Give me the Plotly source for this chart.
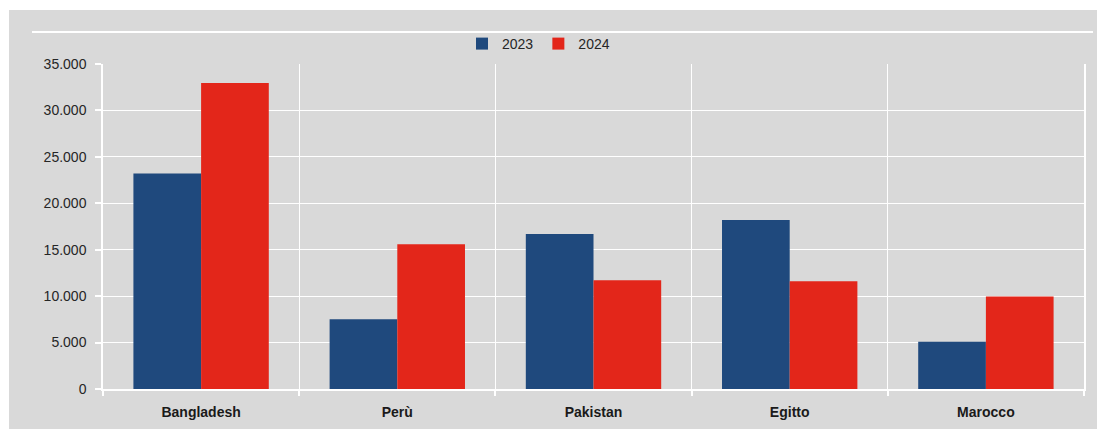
import plotly.graph_objects as go

# Data
countries = ["Bangladesh", "Perù", "Pakistan", "Egitto", "Marocco"]
values_2023 = [23200, 7500, 16700, 18200, 5100]
values_2024 = [32950, 15600, 11700, 11600, 9950]
series_names = ["2023", "2024"]
y_ticks = [0, 5000, 10000, 15000, 20000, 25000, 30000, 35000]

BLUE = "#1F497D"
RED = "#E3261A"
GRAY = "#D9D9D9"
TEXT = "#262626"
FONT = "Liberation Sans, Arial, sans-serif"

W, H = 1097, 432
ML, MR, MT, MB = 103, 13, 64, 43
PW = W - ML - MR
PH = H - MT - MB


def px_x(px):
    return (px - ML) / PW


def px_y(py):
    return (H - MB - py) / PH


fig = go.Figure()
fig.add_trace(go.Bar(x=countries, y=values_2023, name=series_names[0],
                     marker=dict(color=BLUE, line=dict(width=0))))
fig.add_trace(go.Bar(x=countries, y=values_2024, name=series_names[1],
                     marker=dict(color=RED, line=dict(width=0))))

shapes = [
    # white frame around the gray panel
    dict(type="rect", xref="paper", yref="paper", x0=px_x(0), x1=px_x(W),
         y0=px_y(0), y1=px_y(10), fillcolor="white", line=dict(width=0), layer="below"),
    dict(type="rect", xref="paper", yref="paper", x0=px_x(0), x1=px_x(9),
         y0=px_y(H), y1=px_y(0), fillcolor="white", line=dict(width=0), layer="below"),
    dict(type="rect", xref="paper", yref="paper", x0=px_x(0), x1=px_x(W),
         y0=px_y(H), y1=px_y(429), fillcolor="white", line=dict(width=0), layer="below"),
    # white rule above the legend
    dict(type="line", xref="paper", yref="paper", x0=px_x(32), x1=px_x(1093),
         y0=px_y(32), y1=px_y(32), line=dict(color="white", width=2)),
]

fig.update_layout(
    width=W, height=H,
    margin=dict(l=ML, r=MR, t=MT, b=MB, pad=0),
    paper_bgcolor=GRAY,
    plot_bgcolor=GRAY,
    barmode="group",
    bargap=0.31,
    bargroupgap=0,
    separators=",.",
    font=dict(family=FONT, size=14, color=TEXT),
    showlegend=True,
    legend=dict(orientation="h", x=px_x(462), xanchor="left",
                y=px_y(44), yanchor="middle", bgcolor="rgba(0,0,0,0)",
                font=dict(family=FONT, size=14, color=TEXT), itemwidth=30,
                tracegroupgap=0),
    shapes=shapes,
    xaxis=dict(
        type="category",
        tickson="boundaries",
        showgrid=True, gridcolor="white", gridwidth=1.2,
        showline=True, linecolor="white", linewidth=2,
        ticks="outside", ticklen=5, tickcolor="white", tickwidth=1.5,
        ticklabelstandoff=9,
        tickfont=dict(family=FONT, size=14, color="#1a1a1a", weight="bold"),
        range=[-0.5, 4.5],
    ),
    yaxis=dict(
        range=[0, 35000],
        tickvals=y_ticks,
        tickformat=",d",
        showgrid=True, gridcolor="white", gridwidth=1.2,
        showline=True, linecolor="white", linewidth=1.5, mirror=True,
        ticks="outside", ticklen=6, tickcolor="white", tickwidth=1.5,
        ticklabelstandoff=6,
        zeroline=False,
        tickfont=dict(family=FONT, size=14, color=TEXT),
    ),
)

fig.write_html("out.html")
